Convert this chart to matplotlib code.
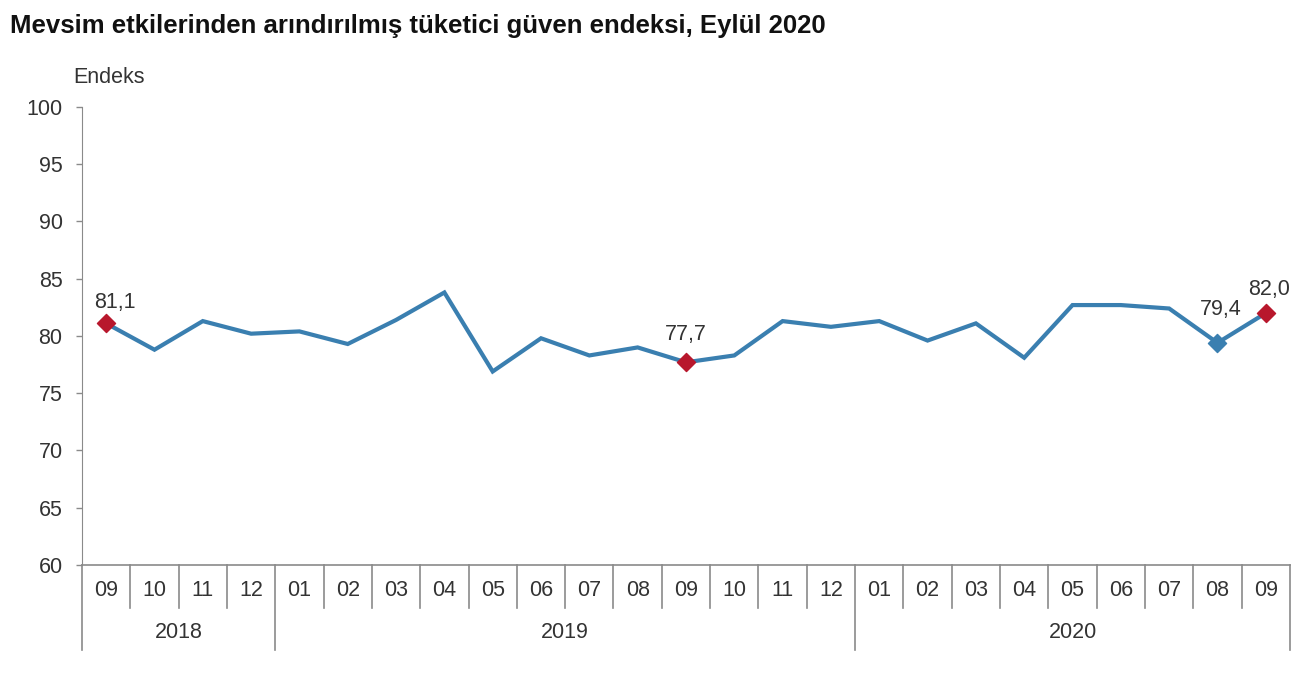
import matplotlib
matplotlib.use("Agg")
import matplotlib.pyplot as plt

plt.rcParams['font.family'] = ['Liberation Sans', 'DejaVu Sans']

months = ["09", "10", "11", "12",
          "01", "02", "03", "04", "05", "06", "07", "08", "09", "10", "11", "12",
          "01", "02", "03", "04", "05", "06", "07", "08", "09"]
years = ["2018", "2019", "2020"]
year_counts = [4, 12, 9]
values = [81.1, 78.8, 81.3, 80.2,
          80.4, 79.3, 81.4, 83.8, 76.9, 79.8, 78.3, 79.0, 77.7, 78.3, 81.3, 80.8,
          81.3, 79.6, 81.1, 78.1, 82.7, 82.7, 82.4, 79.4, 82.0]
red_idx = [0, 12, 24]
blue_idx = [23]
yticks = [60, 65, 70, 75, 80, 85, 90, 95, 100]

# label offsets in points (dx, dy) for annotated points
label_offsets = {0: (6, 11), 12: (0, 16), 23: (2, 20), 24: (2, 13)}

line_color = "#3a7fb0"
red_color = "#b8172c"
text_color = "#333333"
axis_color = "#8a8a8a"
fs = 15.5

fig = plt.figure(figsize=(13.14, 6.75), dpi=100)
ax = fig.add_axes([0.0624, 0.163, 0.9193, 0.6785])

x = list(range(len(values)))
ax.plot(x, values, color=line_color, lw=3, solid_joinstyle='miter', zorder=2)
ax.scatter([x[i] for i in red_idx], [values[i] for i in red_idx], marker='D', s=85,
           color=red_color, zorder=3)
ax.scatter([x[i] for i in blue_idx], [values[i] for i in blue_idx], marker='D', s=85,
           color=line_color, zorder=3)

for i in red_idx + blue_idx:
    lbl = f"{values[i]:.1f}".replace('.', ',')
    dx, dy = label_offsets[i]
    ax.annotate(lbl, (x[i], values[i]), xytext=(dx, dy), textcoords='offset points',
                ha='center', va='baseline', fontsize=fs, color=text_color)

ax.set_xlim(-0.5, len(values) - 0.5)
ax.set_ylim(60, 100)
ax.set_yticks(yticks)
ax.set_yticklabels([str(t) for t in yticks], fontsize=fs, color=text_color)
ax.tick_params(axis='y', length=4, width=1, color=axis_color, pad=10)
ax.set_xticks([])

for s in ['top', 'right']:
    ax.spines[s].set_visible(False)
ax.spines['left'].set_color(axis_color)
ax.spines['bottom'].set_color(axis_color)
ax.spines['bottom'].set_linewidth(1.2)

tr = ax.get_xaxis_transform()
for i, m in enumerate(months):
    ax.text(i, -0.055, m, transform=tr, ha='center', va='center', fontsize=fs,
            color=text_color)
boundaries_year = [-0.5]
acc = -0.5
for c in year_counts:
    acc += c
    boundaries_year.append(acc)
for b in range(len(values) + 1):
    xb = b - 0.5
    if xb in boundaries_year:
        ax.plot([xb, xb], [0, -0.186], transform=tr, color=axis_color, lw=1.2, clip_on=False)
    else:
        ax.plot([xb, xb], [0, -0.094], transform=tr, color=axis_color, lw=1.2, clip_on=False)
start = -0.5
for yname, c in zip(years, year_counts):
    ax.text(start + c / 2, -0.148, yname, transform=tr, ha='center', va='center',
            fontsize=fs, color=text_color)
    start += c

fig.text(0.0076, 0.951, "Mevsim etkilerinden arındırılmış tüketici güven endeksi, Eylül 2020",
         fontsize=18.5, fontweight='bold', color='#111111', ha='left', va='baseline')
fig.text(0.0556, 0.877, "Endeks", fontsize=fs, color=text_color, ha='left', va='baseline')

fig.savefig("out.png", dpi=100, facecolor='white')
